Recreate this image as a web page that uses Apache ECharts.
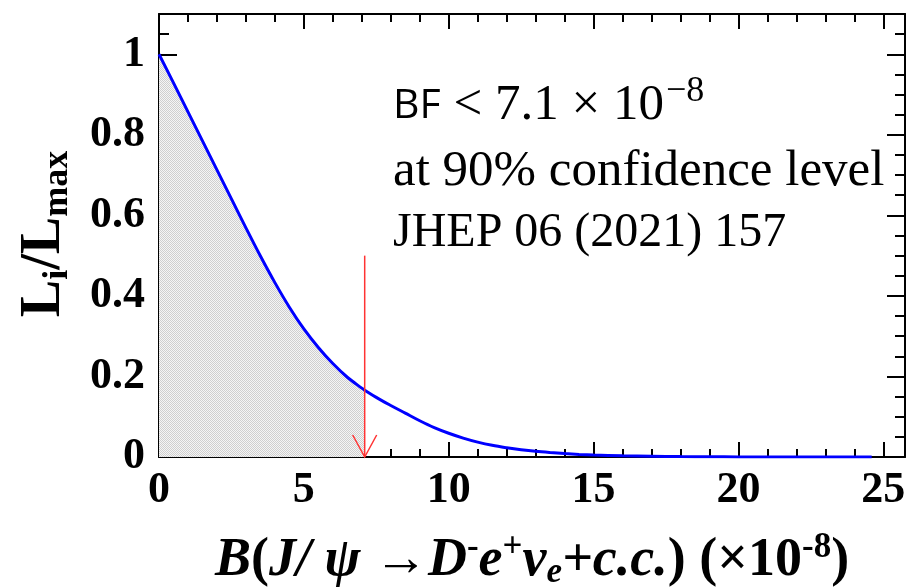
<!DOCTYPE html>
<html>
<head>
<meta charset="utf-8">
<script src="https://cdn.jsdelivr.net/npm/echarts@6/dist/echarts.min.js"></script>
<style>
  html, body { margin: 0; padding: 0; background: #fff; }
  #chart { width: 912px; height: 588px; }
</style>
</head>
<body>
<div id="chart"></div>
<script>
// Branching fraction scan points (units of 1e-8) and normalised likelihood L_i/L_max
const branchingFraction = [0, 0.5, 1, 1.5, 2, 2.5, 3, 3.5, 4, 4.5, 5, 5.5, 6, 6.5, 7, 7.1, 7.5, 8, 8.5, 9, 9.5,
  10, 10.5, 11, 11.5, 12, 12.5, 13, 13.5, 14, 14.5, 15, 16, 17, 18, 19, 20, 21, 22, 23, 24, 24.6];
const likelihood = [1.0, 0.929, 0.857, 0.785, 0.713, 0.641, 0.569, 0.499, 0.433, 0.372, 0.318, 0.272, 0.232, 0.198,
  0.171, 0.166, 0.148, 0.128, 0.109, 0.090, 0.073, 0.059, 0.047, 0.037, 0.029, 0.023, 0.018, 0.014, 0.011, 0.0085,
  0.0065, 0.005, 0.003, 0.0018, 0.001, 0.0005, 0.0003, 0.0001, 0, 0, 0, 0];

// 90% CL upper limit and the height where its arrow starts
const upperLimit = 7.1;
const arrowTop = 0.5;

// Axis ranges and ticks
const xMin = 0, xMax = 25.75;
const yMin = 0, yMax = 1.1;
const xMajorTicks = [0, 5, 10, 15, 20, 25];
const xTickLabels = ['0', '5', '10', '15', '20', '25'];
const xMinorTicks = [1, 2, 3, 4, 6, 7, 8, 9, 11, 12, 13, 14, 16, 17, 18, 19, 21, 22, 23, 24];
const yMajorTicks = [0, 0.2, 0.4, 0.6, 0.8, 1.0];
const yTickLabels = ['0', '0.2', '0.4', '0.6', '0.8', '1'];
const yMinorTicks = [0.05, 0.1, 0.15, 0.25, 0.3, 0.35, 0.45, 0.5, 0.55, 0.65, 0.7, 0.75, 0.85, 0.9, 0.95, 1.05];

const curve = branchingFraction.map((x, i) => [x, likelihood[i]]);
const excluded = curve.filter(p => p[0] <= upperLimit);

// Fine dotted grey fill for the integrated region
const tile = document.createElement('canvas');
tile.width = 2; tile.height = 2;
const tctx = tile.getContext('2d');
tctx.fillStyle = '#f5f5f5'; tctx.fillRect(0, 0, 2, 2);
tctx.fillStyle = '#cfcfcf'; tctx.fillRect(0, 0, 1, 1); tctx.fillRect(1, 1, 1, 1);

const serif = '"Liberation Serif", "Times New Roman", serif';
const plotRect = { left: 159, top: 14, width: 746, height: 443, containLabel: false };

// Grid 0 carries the frame, major ticks and labels; grid 1 (same rectangle) carries the minor ticks
function xAxisDef(grid, pos, ticks, len, major) {
  return {
    gridIndex: grid, type: 'value', position: pos, min: xMin, max: xMax,
    axisLine: { show: major, onZero: false, lineStyle: { color: '#000', width: 2 } },
    axisTick: { show: true, inside: true, length: len, customValues: ticks, lineStyle: { color: '#000', width: 2 } },
    axisLabel: (major && pos === 'bottom') ? {
      show: true, customValues: xMajorTicks, margin: 12,
      formatter: v => xTickLabels[xMajorTicks.indexOf(v)],
      fontFamily: serif, fontWeight: 'bold', fontSize: 44, color: '#000'
    } : { show: false },
    splitLine: { show: false }
  };
}
function yAxisDef(grid, pos, ticks, len, major) {
  return {
    gridIndex: grid, type: 'value', position: pos, min: yMin, max: yMax,
    axisLine: { show: major, onZero: false, lineStyle: { color: '#000', width: 2 } },
    axisTick: { show: true, inside: true, length: len, customValues: ticks, lineStyle: { color: '#000', width: 2 } },
    axisLabel: (major && pos === 'left') ? {
      show: true, customValues: yMajorTicks, margin: 14,
      formatter: v => yTickLabels[yMajorTicks.indexOf(v)],
      fontFamily: serif, fontWeight: 'bold', fontSize: 44, color: '#000'
    } : { show: false },
    splitLine: { show: false }
  };
}

const chart = echarts.init(document.getElementById('chart'), null, { renderer: 'canvas' });
chart.setOption({
  backgroundColor: '#fff',
  animation: false,
  grid: [Object.assign({}, plotRect), Object.assign({}, plotRect)],
  xAxis: [
    xAxisDef(0, 'bottom', xMajorTicks, 15, true),
    xAxisDef(0, 'top', xMajorTicks, 15, true),
    xAxisDef(1, 'bottom', xMinorTicks, 8, false),
    xAxisDef(1, 'top', xMinorTicks, 8, false)
  ],
  yAxis: [
    yAxisDef(0, 'left', yMajorTicks, 18, true),
    yAxisDef(0, 'right', yMajorTicks, 18, true),
    yAxisDef(1, 'left', yMinorTicks, 10, false),
    yAxisDef(1, 'right', yMinorTicks, 10, false)
  ],
  series: [
    {
      name: 'excluded', type: 'line', data: excluded, showSymbol: false,
      xAxisIndex: 0, yAxisIndex: 0, smooth: 0.35,
      lineStyle: { width: 0 },
      areaStyle: { color: { image: tile, repeat: 'repeat' }, opacity: 1 },
      z: 1
    },
    {
      name: 'likelihood', type: 'line', data: curve, showSymbol: false,
      xAxisIndex: 0, yAxisIndex: 0, smooth: 0.35,
      lineStyle: { color: '#0000ff', width: 3 },
      z: 3
    },
    {
      name: 'limit', type: 'custom', data: [[upperLimit, arrowTop]], z: 4,
      xAxisIndex: 0, yAxisIndex: 0,
      renderItem: (params, api) => {
        const top = api.coord([api.value(0), api.value(1)]);
        const bot = api.coord([api.value(0), 0]);
        const st = { stroke: '#ff3333', lineWidth: 1.5, fill: null };
        return {
          type: 'group',
          children: [
            { type: 'line', shape: { x1: top[0], y1: top[1], x2: bot[0], y2: bot[1] }, style: st },
            { type: 'polyline', shape: { points: [[bot[0] - 12, bot[1] - 22], [bot[0], bot[1]], [bot[0] + 12, bot[1] - 22]] }, style: st }
          ]
        };
      }
    }
  ],
  graphic: [
    {
      type: 'text', left: 393, top: 74, z: 10,
      style: {
        text: '{bf|BF}{m| < 7.1 × 10}{sup|−8}',
        rich: {
          bf: { fontFamily: '"Open Sans", sans-serif', fontSize: 41, fill: '#000' },
          m: { fontFamily: serif, fontSize: 51, fill: '#000' },
          sup: { fontFamily: serif, fontSize: 36, fill: '#000', padding: [0, 0, 28, 2] }
        }
      }
    },
    {
      type: 'text', left: 393, top: 146, z: 10,
      style: { text: 'at 90% confidence level', fontFamily: serif, fontSize: 51, fill: '#000' }
    },
    {
      type: 'text', left: 393, top: 209, z: 10,
      style: { text: 'JHEP 06 (2021) 157', fontFamily: serif, fontSize: 48, fill: '#000' }
    },
    {
      type: 'text', x: 45, y: 234, rotation: Math.PI / 2, z: 10,
      style: {
        text: '{m|L}{s|i}{m|/L}{s|max}',
        align: 'center', verticalAlign: 'middle',
        rich: {
          m: { fontFamily: serif, fontWeight: 'bold', fontSize: 56, fill: '#000' },
          s: { fontFamily: serif, fontWeight: 'bold', fontSize: 36, fill: '#000', padding: [26, 0, 0, 0] }
        }
      }
    },
    {
      type: 'text', x: 532, y: 561, z: 10,
      style: {
        text: '{i|B}{n|(}{i|J/ ψ →D}{sp|-}{i|e}{sp|+}{i|ν}{sb|e}{i|+c.c.}{n|) (×10}{sp|-8}{n|)}',
        align: 'center', verticalAlign: 'middle',
        rich: {
          i: { fontFamily: serif, fontWeight: 'bold', fontStyle: 'italic', fontSize: 54, fill: '#000' },
          n: { fontFamily: serif, fontWeight: 'bold', fontSize: 54, fill: '#000' },
          sp: { fontFamily: serif, fontWeight: 'bold', fontSize: 35, fill: '#000', padding: [0, 0, 27, 0] },
          sb: { fontFamily: serif, fontWeight: 'bold', fontStyle: 'italic', fontSize: 35, fill: '#000', padding: [23, 0, 0, 0] }
        }
      }
    }
  ]
});
</script>
</body>
</html>
